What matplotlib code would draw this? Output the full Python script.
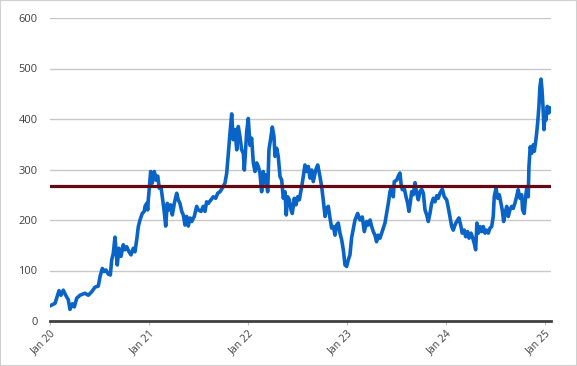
import matplotlib
matplotlib.use("Agg")
import matplotlib.pyplot as plt
import matplotlib.dates as mdates
import pandas as pd
from matplotlib.patches import Rectangle

# time in years since 1 Jan 2020
years_since_2020 = [
    0.000, 0.051, 0.091, 0.111, 0.134, 0.159, 0.185, 0.202, 0.225, 0.246,
    0.270, 0.303, 0.354, 0.387, 0.422, 0.455, 0.488, 0.506, 0.529, 0.549,
    0.566, 0.589, 0.610, 0.624, 0.640, 0.657, 0.670, 0.680, 0.698, 0.718,
    0.741, 0.758, 0.776, 0.799, 0.819, 0.842, 0.859, 0.877, 0.893, 0.910,
    0.933, 0.953, 0.961, 0.978, 0.988, 0.994, 1.001, 1.018, 1.034, 1.055,
    1.072, 1.089, 1.105, 1.122, 1.135, 1.153, 1.170, 1.186, 1.203, 1.220,
    1.237, 1.257, 1.281, 1.297, 1.314, 1.332, 1.348, 1.365, 1.382, 1.398,
    1.416, 1.433, 1.459, 1.483, 1.500, 1.527, 1.550, 1.567, 1.584, 1.601,
    1.628, 1.651, 1.675, 1.696, 1.719, 1.742, 1.769, 1.787, 1.803, 1.820,
    1.837, 1.853, 1.871, 1.888, 1.904, 1.921, 1.938, 1.955, 1.965, 1.989,
    2.005, 2.022, 2.039, 2.056, 2.073, 2.090, 2.106, 2.123, 2.140, 2.156,
    2.174, 2.184, 2.201, 2.214, 2.232, 2.248, 2.265, 2.275, 2.292, 2.308,
    2.326, 2.343, 2.359, 2.376, 2.389, 2.403, 2.420, 2.437, 2.450, 2.470,
    2.487, 2.505, 2.521, 2.545, 2.561, 2.578, 2.595, 2.612, 2.629, 2.646,
    2.662, 2.687, 2.707, 2.730, 2.747, 2.763, 2.781, 2.798, 2.814, 2.831,
    2.848, 2.865, 2.882, 2.898, 2.915, 2.932, 2.949, 2.966, 2.983, 3.000,
    3.016, 3.033, 3.050, 3.084, 3.111, 3.134, 3.158, 3.178, 3.202, 3.218,
    3.236, 3.253, 3.269, 3.286, 3.302, 3.319, 3.337, 3.354, 3.370, 3.387,
    3.404, 3.421, 3.438, 3.455, 3.471, 3.481, 3.506, 3.522, 3.539, 3.549,
    3.562, 3.582, 3.600, 3.617, 3.630, 3.647, 3.657, 3.673, 3.691, 3.708,
    3.724, 3.741, 3.758, 3.775, 3.792, 3.809, 3.825, 3.842, 3.859, 3.876,
    3.893, 3.910, 3.926, 3.943, 3.967, 3.987, 4.011, 4.027, 4.044, 4.062,
    4.078, 4.095, 4.112, 4.135, 4.156, 4.168, 4.189, 4.203, 4.223, 4.237,
    4.257, 4.270, 4.290, 4.304, 4.317, 4.331, 4.348, 4.365, 4.381, 4.398,
    4.415, 4.432, 4.449, 4.466, 4.482, 4.492, 4.510, 4.527, 4.543, 4.560,
    4.573, 4.587, 4.601, 4.618, 4.634, 4.651, 4.668, 4.684, 4.701, 4.718,
    4.734, 4.752, 4.769, 4.779, 4.795, 4.809, 4.823, 4.836, 4.843, 4.856,
    4.871, 4.887, 4.897, 4.911, 4.921, 4.931, 4.944, 4.954, 4.965, 4.975,
    4.985, 4.995, 5.005, 5.015, 5.028, 5.045, 5.056,
]
values = [
    30, 35, 60, 51, 61, 51, 42, 23, 34, 28,
    45, 51, 55, 51, 58, 67, 69, 88, 104, 98,
    101, 93, 91, 121, 134, 166, 134, 111, 144, 128,
    151, 141, 147, 137, 131, 144, 137, 161, 187, 200,
    213, 217, 227, 233, 220, 240, 256, 296, 273, 296,
    279, 287, 263, 266, 246, 220, 188, 233, 220, 230,
    210, 233, 253, 240, 233, 217, 210, 190, 207, 188,
    204, 197, 207, 227, 220, 217, 227, 217, 236, 233,
    240, 246, 243, 253, 256, 263, 273, 293, 332, 372,
    410, 359, 379, 339, 385, 365, 339, 332, 299, 375,
    401, 348, 362, 313, 296, 313, 306, 293, 256, 296,
    273, 289, 256, 339, 362, 384, 365, 326, 342, 326,
    286, 279, 243, 256, 210, 246, 240, 220, 213, 243,
    230, 246, 240, 266, 286, 309, 296, 306, 283, 299,
    276, 299, 309, 286, 266, 240, 207, 223, 227, 204,
    184, 187, 170, 190, 194, 174, 161, 141, 111, 108,
    121, 131, 165, 200, 213, 200, 206, 177, 197, 190,
    200, 187, 177, 170, 157, 170, 164, 174, 184, 194,
    213, 233, 256, 266, 246, 276, 279, 287, 293, 273,
    260, 263, 246, 233, 217, 240, 256, 250, 274, 253,
    240, 256, 261, 253, 220, 210, 197, 213, 233, 243,
    236, 248, 243, 253, 261, 246, 240, 225, 207, 187,
    180, 190, 197, 204, 187, 174, 180, 167, 177, 164,
    174, 167, 154, 141, 194, 174, 187, 177, 187, 174,
    180, 174, 184, 187, 207, 246, 263, 243, 250, 233,
    220, 197, 213, 227, 207, 220, 227, 223, 233, 246,
    260, 243, 250, 220, 213, 246, 266, 246, 306, 345,
    332, 349, 336, 355, 372, 392, 425, 464, 479, 458,
    425, 379, 412, 398, 425, 412, 422,
]
reference_level = 268
y_ticks = [0, 100, 200, 300, 400, 500, 600]
x_tick_years = [2020, 2021, 2022, 2023, 2024, 2025]

start = pd.Timestamp("2020-01-01")
dates = [start + pd.Timedelta(days=t * 365.25) for t in years_since_2020]

fig = plt.figure(figsize=(5.77, 3.66), dpi=100)
plt.rcParams['font.family'] = ['Open Sans', 'DejaVu Sans']
ax = fig.add_axes([50 / 577, 1 - 321 / 366, 501 / 577, 303 / 366])

ax.plot(dates, values, color="#0A64C8", lw=2.6, solid_joinstyle="round", zorder=3)
ax.axhline(reference_level, color="#650A14", lw=2.3, zorder=4)

ax.set_ylim(0, 600)
ax.set_yticks(y_ticks)
ax.set_xlim(start, start + pd.Timedelta(days=5.066 * 365.25))
ax.set_xticks([pd.Timestamp(f"{y}-01-01") for y in x_tick_years])
ax.xaxis.set_major_formatter(mdates.DateFormatter("%b %y"))

ax.grid(axis="y", color="#C8C8C8", lw=1)
ax.set_axisbelow(True)
for s in ["top", "right", "left"]:
    ax.spines[s].set_visible(False)
ax.spines["bottom"].set_color("#404040")
ax.spines["bottom"].set_linewidth(2)
ax.spines["bottom"].set_zorder(5)

ax.tick_params(axis="y", length=0, pad=9, labelsize=8, labelcolor="#404040")
ax.tick_params(axis="x", length=3, width=0.8, color="#BFBFBF", pad=2,
               labelsize=7.5, labelcolor="#404040")
for lab in ax.get_xticklabels():
    lab.set_rotation(45)
    lab.set_ha("right")
    lab.set_rotation_mode("anchor")

fig.patches.append(Rectangle((0, 0), 1, 1, transform=fig.transFigure,
                             fill=False, edgecolor="#D0D0D0", lw=1.5))

fig.savefig("out.png", dpi=100)
